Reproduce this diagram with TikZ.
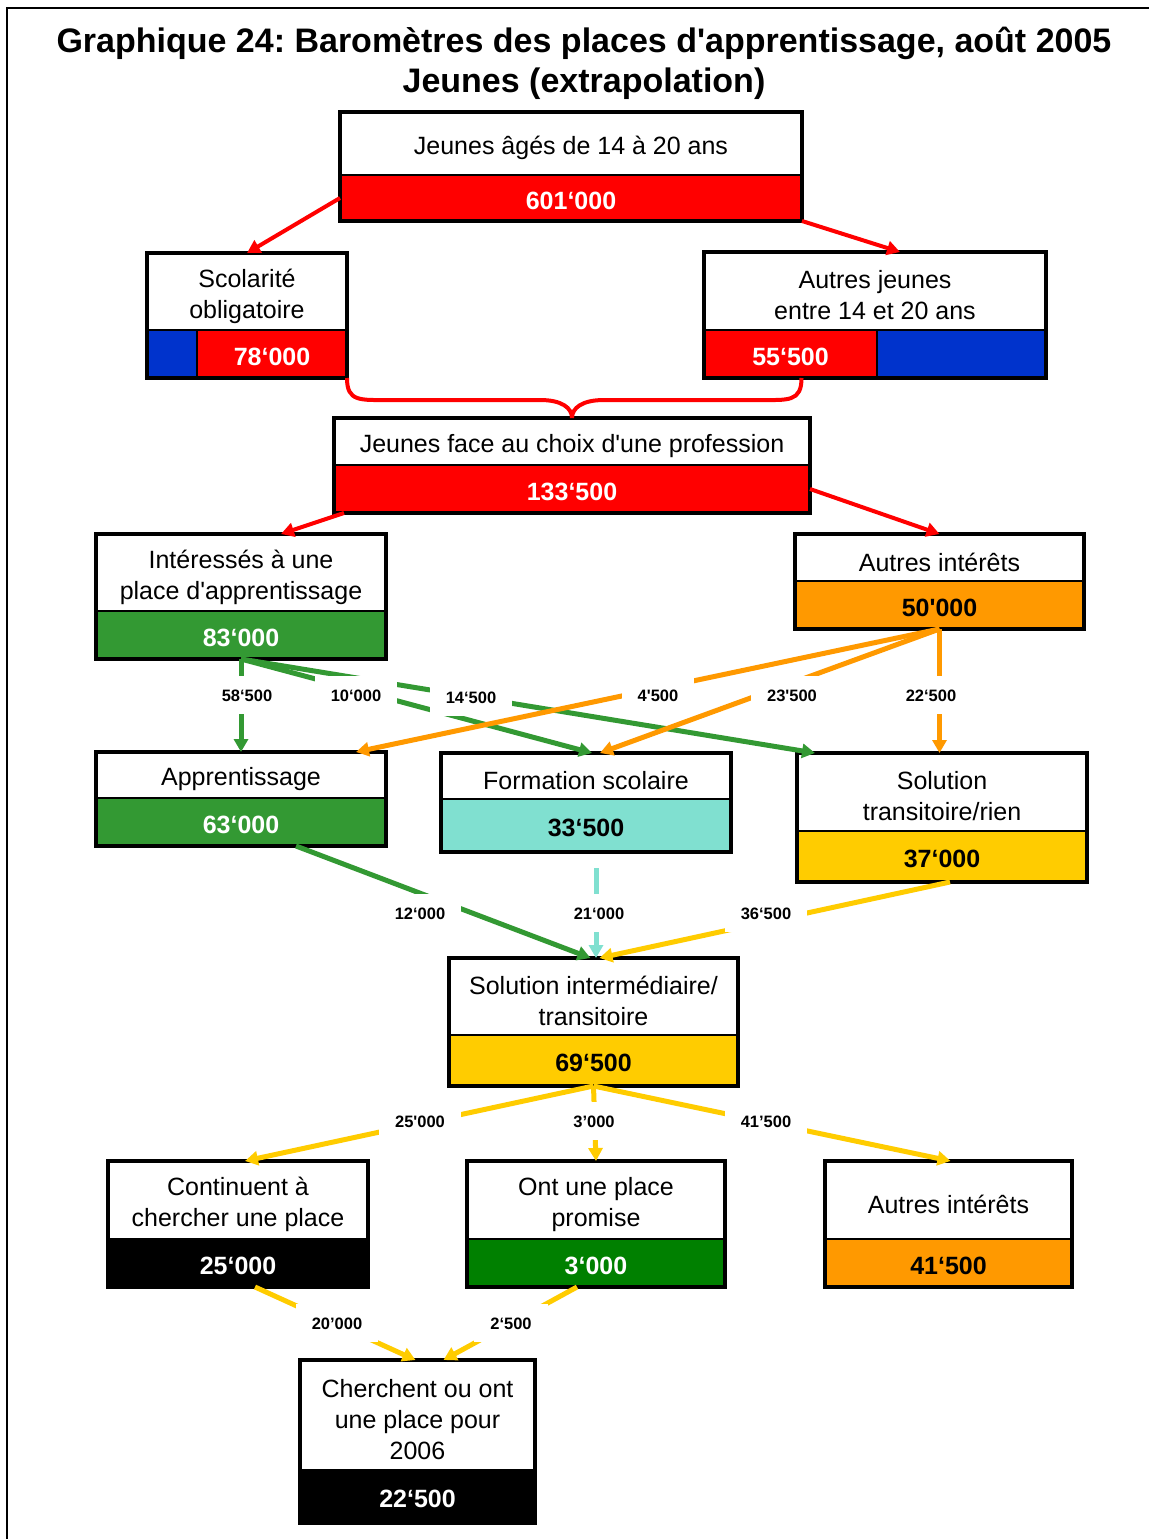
\documentclass[tikz,border=0pt]{standalone}
\usepackage{fontspec}
\setmainfont{Liberation Sans}[Ligatures=TeXOff]
\usetikzlibrary{arrows.meta,fit}
\definecolor{cred}{RGB}{255,0,0}
\definecolor{cblue}{RGB}{0,51,204}
\definecolor{cgreen}{RGB}{51,153,51}
\definecolor{corange}{RGB}{255,153,0}
\definecolor{cturq}{RGB}{128,224,208}
\definecolor{cyellow}{RGB}{255,204,0}
\definecolor{cdgreen}{RGB}{0,128,0}
\tikzset{
  topcell/.style={draw=black, line width=1.5pt, fill=white, inner sep=0pt, outer sep=0pt},
  celltext/.style={inner sep=0pt, outer sep=0pt, align=center, font=\fontsize{25}{31}\selectfont},
  botcell/.style={draw=black, line width=1.5pt, inner sep=0pt, outer sep=0pt, text height=22pt, text depth=0pt, font=\fontsize{25}{31}\selectfont\bfseries},
  vred/.style={fill=cred, text=white},
  vgreen/.style={fill=cgreen, text=white},
  vorange/.style={fill=corange, text=black},
  vturq/.style={fill=cturq, text=black},
  vyellow/.style={fill=cyellow, text=black},
  vblack/.style={fill=black, text=white},
  vdgreen/.style={fill=cdgreen, text=white},
  frame/.style={draw=black, line width=4pt, inner sep=0pt, outer sep=0pt},
  tip/.style={-{Triangle[length=13pt,width=14pt]}},
  rconn/.style={draw=cred, line width=4pt, tip},
  gconn/.style={draw=cgreen, line width=5pt, tip},
  oconn/.style={draw=corange, line width=5pt, tip},
  yconn/.style={draw=cyellow, line width=5pt, tip},
  tconn/.style={draw=cturq, line width=5pt, tip},
  bracestyle/.style={draw=cred, line width=4pt},
  flab/.style={fill=white, inner xsep=16pt, inner ysep=13pt, text height=12pt, text depth=0pt, font=\fontsize{16.5}{18}\selectfont\bfseries},
}
\newcommand\mkbox[9]{%
  \node[topcell, minimum width={#3-#2}, minimum height={#5-#4}] (#1t) at ({(#2+#3)/2},{(#4+#5)/2}) {};
  \node[celltext] (#1x) at ([yshift=-4.5pt]#1t.center) {#8};
  \node[botcell, #7, minimum width={#3-#2}, minimum height={#6-#5}] (#1b) at ({(#2+#3)/2},{(#5+#6)/2}) {#9};
  \node[frame, fit=(#1t)(#1b)] (#1) {};
}
\begin{document}
\frenchspacing
\begin{tikzpicture}[x=1pt,y=-1pt]
\useasboundingbox (0,0) rectangle (1149,1539);
\fill[white] (0,0) rectangle (1149,1539);
\draw[line width=2.5pt] (7,1539) -- (7,8) -- (1149,8);

\node[font=\fontsize{34}{40}\selectfont\bfseries, align=center] (title) at (584,63)
  {Graphique 24: Baromètres des places d'apprentissage, août 2005\\Jeunes (extrapolation)};

% boxes
\mkbox{top}{340}{802}{112}{175}{221}{vred}{Jeunes âgés de 14 à 20 ans}{601‘000}

\node[topcell, minimum width=200, minimum height=77] (scolt) at (247,291.5) {};
\node[celltext] (scolx) at ([yshift=-4.5pt]scolt.center) {Scolarité\\obligatoire};
\node[botcell, fill=cblue, minimum width=50, minimum height=48] (scolblue) at (172,354) {};
\node[botcell, vred, minimum width=150, minimum height=48] (scolb) at (272,354) {78‘000};
\node[frame, fit=(scolt)(scolblue)(scolb)] (scol) {};

\node[topcell, minimum width=342, minimum height=78] (autjt) at (875,291) {};
\node[celltext] (autjx) at ([yshift=-4.5pt]autjt.center) {Autres jeunes\\entre 14 et 20 ans};
\node[botcell, vred, minimum width=173, minimum height=48] (autjb) at (790.5,354) {55‘500};
\node[botcell, fill=cblue, minimum width=169, minimum height=48] (autjblue) at (961.5,354) {};
\node[frame, fit=(autjt)(autjb)(autjblue)] (autj) {};

\mkbox{choix}{334}{810}{418}{465}{513}{vred}{Jeunes face au choix d'une profession}{133‘500}
\mkbox{inter}{96}{386}{534}{611}{659}{vgreen}{Intéressés à une\\place d'apprentissage}{83‘000}
\mkbox{autint}{795}{1084}{534}{581}{629}{vorange}{Autres intérêts}{50'000}
\mkbox{appr}{96}{386}{752}{798}{846}{vgreen}{Apprentissage}{63‘000}
\mkbox{form}{441}{731}{753}{799}{852}{vturq}{Formation scolaire}{33‘500}
\mkbox{sol}{797}{1087}{753}{831}{882}{vyellow}{Solution\\transitoire/rien}{37‘000}
\mkbox{inmed}{449}{738}{958}{1035}{1086}{vyellow}{Solution intermédiaire/\\transitoire}{69‘500}
\mkbox{cont}{108}{368}{1161}{1239}{1287}{vblack}{Continuent à\\chercher une place}{25‘000}
\mkbox{ont}{467}{725}{1161}{1239}{1287}{vdgreen}{Ont une place\\promise}{3‘000}
\mkbox{autintb2}{825}{1072}{1161}{1239}{1287}{vorange}{Autres intérêts}{41‘500}
\mkbox{cher}{300}{535}{1360}{1470}{1523}{vblack}{Cherchent ou ont\\une place pour\\2006}{22‘500}

% red connectors
\draw[rconn] (topb.west) -- (scol.north);
\draw[rconn] (top.south east) -- ([xshift=25pt]autj.north);
\draw[bracestyle] (scol.south east) .. controls (347,402) and (360,400) .. (390,400) -- (540,400)
  .. controls (562,400) and (572,408) .. (choix.north);
\draw[bracestyle] ([xshift=11pt]autjb.south) .. controls (801.5,402) and (788,400) .. (760,400) -- (604,400)
  .. controls (582,400) and (572,408) .. (choix.north);
\draw[rconn] ([xshift=10pt]choix.south west) -- ([xshift=40pt]inter.north);
\draw[rconn] (choixb.east) -- (autint.north);

% green / orange
\draw[gconn] (interb.south) -- (appr.north);
\draw[gconn] (interb.south) -- ([xshift=6pt]form.north);
\draw[gconn] (interb.south) -- ([xshift=18pt]sol.north west);
\draw[oconn] (autintb.south) -- ([xshift=-30pt]appr.north east);
\draw[oconn] (autintb.south) -- ([xshift=14pt]form.north);
\draw[oconn] (autintb.south) -- (autintb.south |- sol.north);

% into intermediate
\coordinate (tstart) at ([xshift=10pt,yshift=-16pt]formb.south);
\draw[gconn] ([xshift=55pt]apprb.south) -- ([xshift=-3pt]inmed.north);
\draw[tconn] (tstart) -- (tstart |- inmed.north);
\draw[yconn] ([xshift=8pt]solb.south) -- ([xshift=6pt]inmed.north);

% from intermediate
\draw[yconn] (inmedb.south) -- ([xshift=7pt]cont.north);
\draw[yconn] (inmedb.south) -- (ont.north);
\draw[yconn] (inmedb.south) -- ([xshift=2pt]autintb2.north);
\draw[yconn] ([xshift=17pt]contb.south) -- ([xshift=-2pt]cher.north);
\draw[yconn] ([xshift=-19pt]ontb.south) -- ([xshift=26pt]cher.north);

% labels
\node[flab] (l1) at (247,695) {58‘500};
\node[flab] (l2) at (356,695) {10‘000};
\node[flab] (l3) at (471,697) {14‘500};
\node[flab] (l4) at (658,695) {4'500};
\node[flab] (l5) at (792,695) {23'500};
\node[flab] (l6) at (931,695) {22‘500};
\node[flab] (l7) at (420,913) {12‘000};
\node[flab] (l8) at (599,913) {21‘000};
\node[flab] (l9) at (766,913) {36‘500};
\node[flab] (l10) at (420,1121) {25'000};
\node[flab] (l11) at (594,1121) {3’000};
\node[flab] (l12) at (766,1121) {41’500};
\node[flab] (l13) at (337,1323) {20’000};
\node[flab] (l14) at (511,1323) {2‘500};
\end{tikzpicture}
\end{document}
